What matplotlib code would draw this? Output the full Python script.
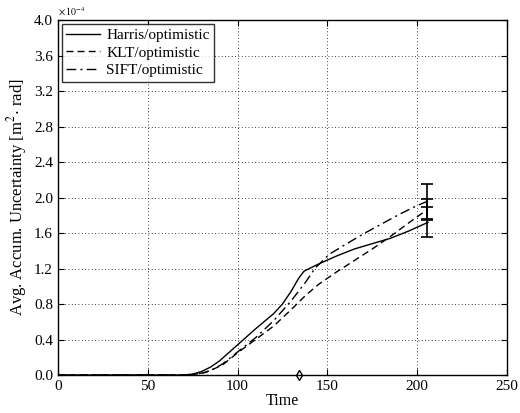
import matplotlib
matplotlib.use("Agg")
import matplotlib.pyplot as plt

# values in units of 1e-4 m^2 rad
t_harris = [0, 70, 75, 80, 85, 90, 100, 110, 120, 125, 130, 134, 137, 141, 145, 155, 165, 175, 185, 195, 206]
harris = [0, 0, 0.01, 0.04, 0.09, 0.16, 0.34, 0.52, 0.69, 0.80, 0.95, 1.09, 1.17, 1.21, 1.25, 1.34, 1.42, 1.48, 1.54, 1.62, 1.72]

t_klt = [0, 72, 77, 82, 87, 92, 100, 110, 120, 130, 138, 145, 155, 165, 175, 185, 195, 206]
klt = [0, 0, 0.01, 0.03, 0.07, 0.12, 0.25, 0.40, 0.55, 0.74, 0.90, 1.02, 1.16, 1.29, 1.42, 1.56, 1.71, 1.87]

t_sift = [0, 72, 77, 82, 87, 92, 100, 110, 120, 130, 138, 143, 151, 160, 170, 180, 190, 200, 206]
sift = [0, 0, 0.01, 0.03, 0.07, 0.13, 0.26, 0.42, 0.61, 0.84, 1.05, 1.20, 1.36, 1.47, 1.59, 1.70, 1.81, 1.91, 1.96]

# final error bars at t=205
err_t = 205.5
err_mean = [1.72, 1.87, 1.95]
err_size = [0.17, 0.11, 0.20]

marker_t = [134]
marker_y = [0]

xticks = [0, 50, 100, 150, 200, 250]
yticks = [0.0, 0.4, 0.8, 1.2, 1.6, 2.0, 2.4, 2.8, 3.2, 3.6, 4.0]


def main():
    plt.rcParams["font.family"] = ["Liberation Serif", "DejaVu Serif"]
    plt.rcParams["mathtext.fontset"] = "stix"
    fig = plt.figure(figsize=(5.2, 4.13), dpi=100)
    ax = fig.add_axes([0.1115, 0.092, 0.8635, 0.8595])

    ax.plot(t_harris, harris, color="black", lw=1.0, ls="-", label="Harris/optimistic")
    ax.plot(t_klt, klt, color="black", lw=1.0, ls=(0, (5, 3)), label="KLT/optimistic")
    ax.plot(t_sift, sift, color="black", lw=1.0, ls=(0, (7, 3, 1.5, 3)), label="SIFT/optimistic")
    for m, e in zip(err_mean, err_size):
        ax.errorbar([err_t], [m], yerr=[e], color="black", lw=1.2, capsize=4, capthick=1.2)
    ax.plot(marker_t, marker_y, marker="d", mfc="none", mec="black", ms=5, ls="none",
            clip_on=False, zorder=5)

    ax.set_xlim(0, 250)
    ax.set_ylim(0, 4.0)
    ax.set_xticks(xticks)
    ax.set_yticks(yticks)
    ax.set_yticklabels(["%.1f" % v for v in yticks])
    ax.tick_params(direction="in", top=True, right=True, labelsize=11, length=4)
    ax.grid(True, ls=(0, (1, 3)), color="black", lw=0.6)
    for s in ax.spines.values():
        s.set_linewidth(1.0)

    ax.set_xlabel("Time", fontsize=11.5, labelpad=0)
    ax.set_ylabel("Avg. Accum. Uncertainty [m$^2$$\\cdot$ rad]", fontsize=12, labelpad=4)
    ax.text(0.0, 1.005, "$\\times\\,10^{-4}$", transform=ax.transAxes, fontsize=7,
            ha="left", va="bottom")

    leg = ax.legend(loc="upper left", fontsize=11, frameon=True, fancybox=False,
                    edgecolor="black", borderaxespad=0.25, handlelength=2.2,
                    labelspacing=0.25, borderpad=0.3, handletextpad=0.4)
    leg.get_frame().set_linewidth(1.0)

    fig.savefig("out.png", dpi=100)


if __name__ == "__main__":
    main()
